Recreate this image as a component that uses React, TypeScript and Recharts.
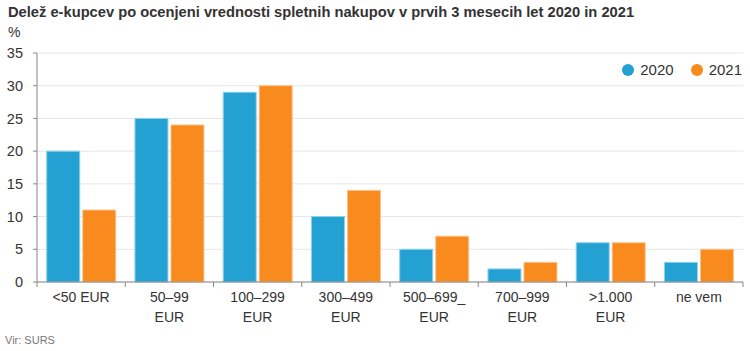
import React from 'react';
import { BarChart, Bar, XAxis, YAxis, CartesianGrid } from 'recharts';

const categories = ['<50 EUR', '50–99\nEUR', '100–299\nEUR', '300–499\nEUR', '500–699_\nEUR', '700–999\nEUR', '>1.000\nEUR', 'ne vem'];
const values2020 = [20, 25, 29, 10, 5, 2, 6, 3];
const values2021 = [11, 24, 30, 14, 7, 3, 6, 5];
const yTicks = [0, 5, 10, 15, 20, 25, 30, 35];

const series = [
  { key: 'y2020', name: '2020', color: '#24a1d3', border: '#8fd0ea' },
  { key: 'y2021', name: '2021', color: '#f98b1e', border: '#fcc38c' },
];

const data = categories.map((name, i) => ({ name, y2020: values2020[i], y2021: values2021[i] }));

const FONT = '"Liberation Sans", Arial, sans-serif';
const W = 750;
const H = 351;
const PLOT_LEFT = 37;
const PLOT_RIGHT = 7;
const STEP = (W - PLOT_LEFT - PLOT_RIGHT) / categories.length;

// two-line category labels + boundary tick marks
const CategoryTick = (props: any) => {
  const { x, y, payload, index } = props;
  const lines = String(payload.value).split('\n');
  const isLast = index === categories.length - 1;
  return (
    <g>
      <line x1={x - STEP / 2} x2={x - STEP / 2} y1={y - 8} y2={y - 3} stroke="#888" />
      {isLast && <line x1={x + STEP / 2} x2={x + STEP / 2} y1={y - 8} y2={y - 3} stroke="#888" />}
      <text x={x} y={y} textAnchor="middle" fill="#333" fontSize={14} fontFamily={FONT}>
        {lines.map((l, i) => (
          <tspan key={i} x={x} dy={i === 0 ? 12 : 20}>{l}</tspan>
        ))}
      </text>
    </g>
  );
};

export default function App() {
  return (
    <div style={{ position: 'absolute', left: 0, top: 0, width: W, height: H, background: '#fff', fontFamily: FONT }}>
      <div style={{ position: 'absolute', left: 8, top: 4, fontSize: 14.7, fontWeight: 'bold', color: '#333' }}>
        Delež e-kupcev po ocenjeni vrednosti spletnih nakupov v prvih 3 mesecih let 2020 in 2021
      </div>
      <div style={{ position: 'absolute', left: 8, top: 24, fontSize: 14, color: '#333' }}>%</div>
      <div style={{ position: 'absolute', left: 5, top: 334, fontSize: 11, color: '#777' }}>Vir: SURS</div>
      <BarChart
        width={W}
        height={H}
        data={data}
        margin={{ top: 53, right: PLOT_RIGHT, left: 7, bottom: 29 }}
        barCategoryGap="11%"
        barGap={3}
      >
        <CartesianGrid vertical={false} stroke="#e6e6e6" />
        <XAxis
          dataKey="name"
          interval={0}
          height={40}
          axisLine={{ stroke: '#888' }}
          tickLine={false}
          tick={<CategoryTick />}
        />
        <YAxis
          width={30}
          domain={[0, 35]}
          ticks={yTicks}
          axisLine={{ stroke: '#888' }}
          tickLine={{ stroke: '#888' }}
          tickSize={4}
          tickMargin={10}
          tick={{ fill: '#333', fontSize: 14.5, fontFamily: FONT }}
        />
        {series.map((s) => (
          <Bar key={s.key} dataKey={s.key} name={s.name} fill={s.color} stroke={s.border} strokeWidth={1} isAnimationActive={false} />
        ))}
      </BarChart>
      {/* legend, top right */}
      <div style={{ position: 'absolute', right: 8, top: 61, display: 'flex', gap: 17, fontSize: 15, color: '#333' }}>
        {series.map((s) => (
          <div key={s.key} style={{ display: 'flex', alignItems: 'center', gap: 6 }}>
            <span style={{ width: 12, height: 12, borderRadius: 6, background: s.color, display: 'inline-block' }} />
            <span>{s.name}</span>
          </div>
        ))}
      </div>
    </div>
  );
}
